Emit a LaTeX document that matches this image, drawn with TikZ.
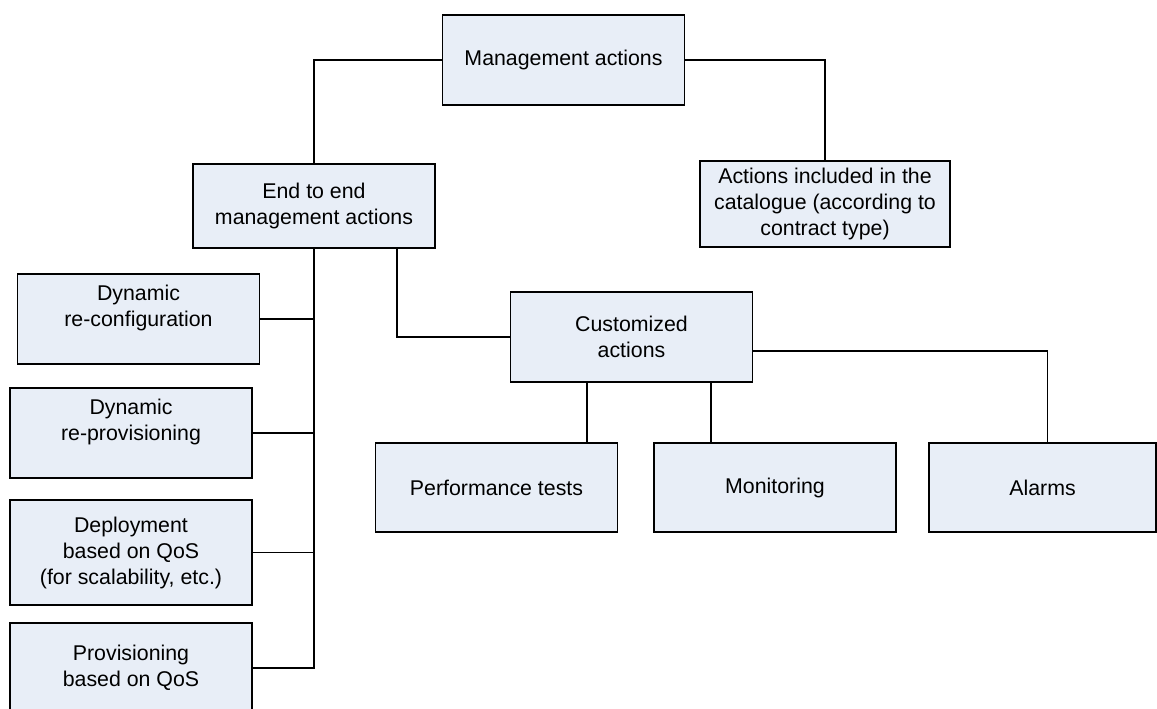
\documentclass[tikz,border=0pt]{standalone}
\usepackage{fontspec}
\setmainfont{Liberation Sans}
\usetikzlibrary{positioning,calc}
\definecolor{actionfill}{RGB}{232,238,247}

\begin{document}
\begin{tikzpicture}[
    x=0.75pt, y=-0.75pt,
    every node/.style={font=\fontsize{16}{19.5}\selectfont, align=center},
    action/.style={draw, line width=1.1pt, fill=actionfill, minimum width=181.5pt, minimum height=67.5pt, inner sep=2pt},
    link/.style={draw, line width=0.9pt}
]
    \clip (0,0) rectangle (1157,709);
    % top levels
    \node [action] (mgmt) at (563.5,60) {Management actions};
    \node [action, minimum height=63pt] (e2e) at (314,206) {End to end\\management actions};
    \node [action, minimum width=187.5pt, minimum height=64.5pt] (catalog) at (825,204) {Actions included in the\\catalogue (according to\\contract type)};
    \node [action] (cust) at (631.5,337) {Customized\\actions};
    % left column
    \node [action] (dynconf) at (138.5,319) {Dynamic\\re-configuration\\\mbox{}};
    \node [action] (dynprov) at (131,433) {Dynamic\\re-provisioning\\\mbox{}};
    \node [action, minimum height=78.75pt] (deploy) at (131,552.5) {Deployment\\based on QoS\\(for scalability, etc.)};
    \node [action] (prov) at (131,668) {Provisioning\\based on QoS};
    % customized actions
    \node [action, minimum height=66.75pt] (perf) at (496.5,487.5) {Performance tests};
    \node [action, minimum height=66.75pt] (monitor) at (775,487.5) {Monitoring};
    \node [action, minimum width=170.25pt, minimum height=66.75pt] (alarms) at (1042.5,487.5) {Alarms};

    \draw [link] (mgmt.west) -| (e2e.north);
    \draw [link] (mgmt.east) -| (catalog.north);
    \draw [link] (e2e.south) |- (prov.east);
    \foreach \n in {dynconf, dynprov, deploy}
        \draw [link] (\n.east) -- (\n.east -| e2e.south);
    \draw [link] ([xshift=62.25pt]e2e.south) |- (cust.west);
    \draw [link] ([xshift=-33.375pt]cust.south) -- ([xshift=-33.375pt]cust.south |- perf.north);
    \draw [link] ([xshift=59.625pt]cust.south) -- ([xshift=59.625pt]cust.south |- monitor.north);
    \draw [link] ([yshift=-10.5pt]cust.east) -| ([xshift=3.75pt]alarms.north);
\end{tikzpicture}
\end{document}
